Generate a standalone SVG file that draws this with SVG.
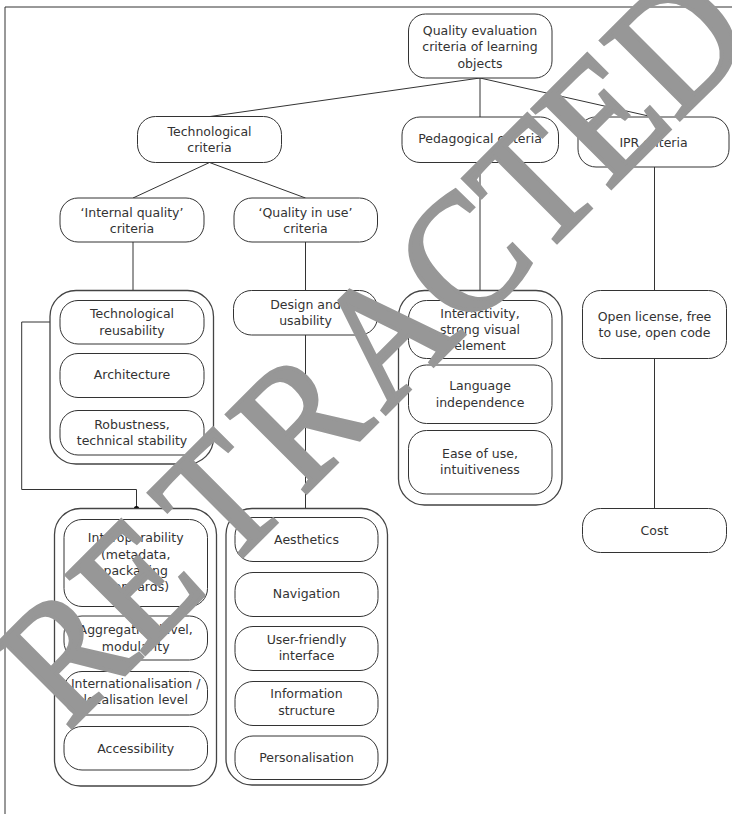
<svg xmlns="http://www.w3.org/2000/svg" width="732" height="814" viewBox="0 0 732 814">
  <style>
    .box { fill: #ffffff; stroke: #333333; stroke-width: 1; }
    .grp { fill: #ffffff; stroke: #444444; stroke-width: 1.3; }
    .lbl { font-family: "DejaVu Sans", Verdana, sans-serif; font-size: 12.5px; fill: #333333; text-anchor: middle; }
    .con { fill: none; stroke: #333333; stroke-width: 1; }
    .dot { fill: #000000; }
    .mark { font-family: "Liberation Serif", "Times New Roman", serif; font-size: 170px; fill: #979797; stroke: #979797; stroke-width: 4; stroke-linejoin: miter; text-anchor: start; }
  </style>

  <rect x="0" y="0" width="732" height="814" fill="#ffffff"/>
  <!-- frame -->
  <path class="con" d="M5,814 V7 H732"/>

  <!-- connectors -->
  <g id="connectors">
    <line class="con" x1="480" y1="78" x2="210" y2="116.5"/>
    <line class="con" x1="480" y1="78" x2="480" y2="117"/>
    <line class="con" x1="480" y1="78" x2="653" y2="117"/>
    <line class="con" x1="209.5" y1="162.5" x2="133" y2="198"/>
    <line class="con" x1="209.5" y1="162.5" x2="305.5" y2="198"/>
    <line class="con" x1="133" y1="242" x2="133" y2="290.5"/>
    <line class="con" x1="305.5" y1="242" x2="305.5" y2="290.5"/>
    <line class="con" x1="305.5" y1="335" x2="305.5" y2="508.5"/>
    <line class="con" x1="480" y1="162.5" x2="480" y2="290.5"/>
    <line class="con" x1="654.5" y1="167" x2="654.5" y2="290.5"/>
    <line class="con" x1="654.5" y1="358.5" x2="654.5" y2="508.5"/>
    <polyline class="con" points="60,322 21.7,322 21.7,489.5 136.5,489.5 136.5,508.5"/>
    <circle class="dot" cx="60" cy="322" r="2.6"/>
    <circle class="dot" cx="136.5" cy="508.5" r="2.6"/>
  </g>

  <g id="root">
    <rect class="box" x="408.5" y="14" width="143.5" height="64" rx="17"/>
    <text class="lbl" x="480" y="34.5">Quality evaluation</text>
    <text class="lbl" x="480" y="51">criteria of learning</text>
    <text class="lbl" x="480" y="67.5">objects</text>
  </g>
  <g id="technological">
    <rect class="box" x="137.5" y="116.5" width="144" height="46" rx="18"/>
    <text class="lbl" x="209.5" y="136">Technological</text>
    <text class="lbl" x="209.5" y="152">criteria</text>
  </g>
  <g id="internal-quality">
    <rect class="box" x="60" y="198" width="144" height="44" rx="18"/>
    <text class="lbl" x="132" y="217">‘Internal quality’</text>
    <text class="lbl" x="132" y="233">criteria</text>
  </g>
  <g id="quality-in-use">
    <rect class="box" x="234" y="198" width="143.5" height="44" rx="18"/>
    <text class="lbl" x="305.5" y="217">‘Quality in use’</text>
    <text class="lbl" x="305.5" y="233">criteria</text>
  </g>
  <g id="pedagogical">
    <rect class="box" x="402" y="117" width="156.5" height="45.5" rx="18"/>
    <text class="lbl" x="480" y="143">Pedagogical criteria</text>
  </g>
  <g id="ipr">
    <rect class="box" x="578" y="117" width="151" height="50" rx="18"/>
    <text class="lbl" x="653.5" y="146.5">IPR criteria</text>
  </g>

  <!-- internal quality group -->
  <g id="internal-group">
    <rect class="grp" x="50" y="290.5" width="163.5" height="173.5" rx="26"/>
  </g>
  <g id="tech-reusability">
    <rect class="box" x="60" y="300.5" width="144" height="43.5" rx="18"/>
    <text class="lbl" x="132" y="318">Technological</text>
    <text class="lbl" x="132" y="335">reusability</text>
  </g>
  <g id="architecture">
    <rect class="box" x="60" y="353.5" width="144" height="44" rx="18"/>
    <text class="lbl" x="132" y="379">Architecture</text>
  </g>
  <g id="robustness">
    <rect class="box" x="60" y="410.5" width="144" height="44.5" rx="18"/>
    <text class="lbl" x="132" y="429">Robustness,</text>
    <text class="lbl" x="132" y="445">technical stability</text>
  </g>

  <g id="design-usability">
    <rect class="box" x="233.5" y="290.5" width="144" height="44.5" rx="18"/>
    <text class="lbl" x="305.5" y="309">Design and</text>
    <text class="lbl" x="305.5" y="325">usability</text>
  </g>

  <!-- pedagogical group -->
  <g id="pedagogical-group">
    <rect class="grp" x="398.5" y="290.5" width="163.5" height="214.5" rx="26"/>
  </g>
  <g id="interactivity">
    <rect class="box" x="408.5" y="300.5" width="143.5" height="58" rx="18"/>
    <text class="lbl" x="480" y="317.5">Interactivity,</text>
    <text class="lbl" x="480" y="334">strong visual</text>
    <text class="lbl" x="480" y="349.5">element</text>
  </g>
  <g id="language">
    <rect class="box" x="408.5" y="365" width="143.5" height="58.5" rx="18"/>
    <text class="lbl" x="480" y="390">Language</text>
    <text class="lbl" x="480" y="406.5">independence</text>
  </g>
  <g id="ease-of-use">
    <rect class="box" x="408.5" y="430.5" width="143.5" height="63.5" rx="18"/>
    <text class="lbl" x="480" y="457.5">Ease of use,</text>
    <text class="lbl" x="480" y="474">intuitiveness</text>
  </g>

  <g id="open-license">
    <rect class="box" x="582.5" y="290.5" width="144" height="68" rx="18"/>
    <text class="lbl" x="654.5" y="320.5">Open license, free</text>
    <text class="lbl" x="654.5" y="336.5">to use, open code</text>
  </g>
  <g id="cost">
    <rect class="box" x="582.5" y="508.5" width="144" height="44" rx="18"/>
    <text class="lbl" x="654.5" y="535">Cost</text>
  </g>

  <!-- bottom-left group -->
  <g id="interop-group">
    <rect class="grp" x="54.5" y="508.5" width="162" height="277.5" rx="26"/>
  </g>
  <g id="interoperability">
    <rect class="box" x="64" y="519.5" width="143.5" height="87" rx="18"/>
    <text class="lbl" x="135.7" y="541.5">Interoperability</text>
    <text class="lbl" x="135.7" y="558.5">(metadata,</text>
    <text class="lbl" x="135.7" y="575">packaging</text>
    <text class="lbl" x="135.7" y="591">standards)</text>
  </g>
  <g id="aggregation">
    <rect class="box" x="64" y="616" width="143.5" height="44" rx="18"/>
    <text class="lbl" x="135.7" y="634">Aggregation level,</text>
    <text class="lbl" x="135.7" y="650.5">modularity</text>
  </g>
  <g id="internationalisation">
    <rect class="box" x="64" y="671.5" width="143.5" height="43.5" rx="18"/>
    <text class="lbl" x="135.7" y="688">Internationalisation /</text>
    <text class="lbl" x="135.7" y="704">localisation level</text>
  </g>
  <g id="accessibility">
    <rect class="box" x="64" y="726.5" width="143.5" height="43.5" rx="18"/>
    <text class="lbl" x="135.7" y="753">Accessibility</text>
  </g>

  <!-- bottom-right group -->
  <g id="design-group">
    <rect class="grp" x="226" y="508.5" width="161.5" height="276.5" rx="26"/>
  </g>
  <g id="aesthetics">
    <rect class="box" x="235" y="517.5" width="143" height="44" rx="18"/>
    <text class="lbl" x="306.5" y="544">Aesthetics</text>
  </g>
  <g id="navigation">
    <rect class="box" x="235" y="572.5" width="143" height="44" rx="18"/>
    <text class="lbl" x="306.5" y="598">Navigation</text>
  </g>
  <g id="user-friendly">
    <rect class="box" x="235" y="626.5" width="143" height="44" rx="18"/>
    <text class="lbl" x="306.5" y="644">User-friendly</text>
    <text class="lbl" x="306.5" y="660">interface</text>
  </g>
  <g id="information-structure">
    <rect class="box" x="235" y="681.5" width="143" height="44" rx="18"/>
    <text class="lbl" x="306.5" y="698">Information</text>
    <text class="lbl" x="306.5" y="715">structure</text>
  </g>
  <g id="personalisation">
    <rect class="box" x="235" y="736" width="143" height="43.5" rx="18"/>
    <text class="lbl" x="306.5" y="761.5">Personalisation</text>
  </g>

  <!-- diagonal overprint, slightly condensed, per-letter placement -->
  <text class="mark" transform="translate(428,371) rotate(-45) scale(0.93,1)" x="-548 -435 -308 -191 -66.1 56.6 170 273.9 377.8" y="0">RETRACTED</text>
</svg>
